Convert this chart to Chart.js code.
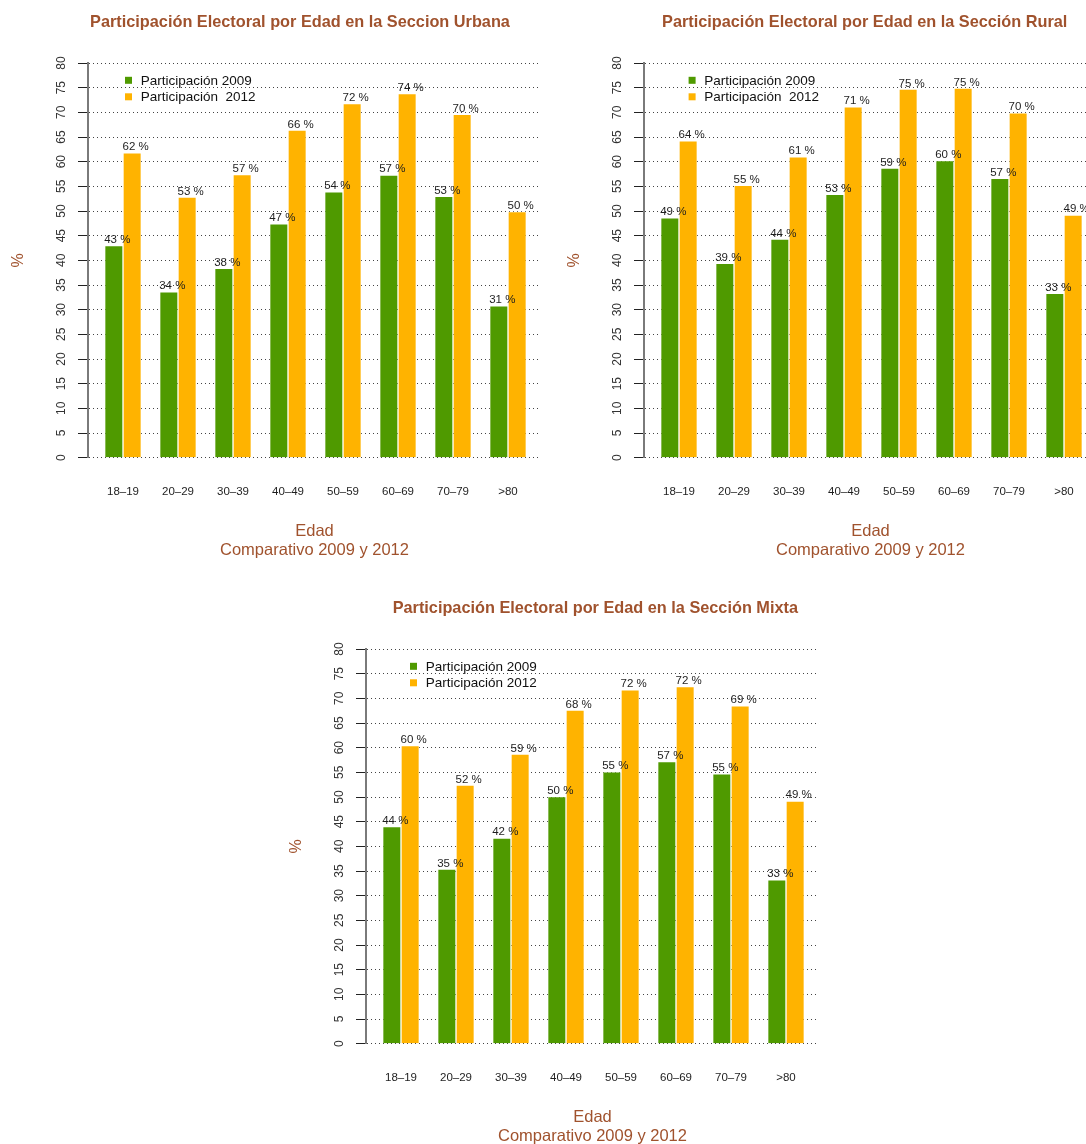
<!DOCTYPE html>
<html>
<head>
<meta charset="utf-8">
<script src="https://cdn.jsdelivr.net/npm/chart.js@4/dist/chart.umd.min.js"></script>
<style>
html, body { margin: 0; padding: 0; background: #fff; }
body { width: 1086px; height: 1144px; overflow: hidden; position: relative; }
.box { position: absolute; width: 560px; height: 572px; }
.box canvas { display: block; }
</style>
</head>
<body>
<div class="box" style="left:0px;top:0px"><canvas id="chart-urbana" width="560" height="572"></canvas></div>
<div class="box" style="left:556px;top:0px"><canvas id="chart-rural" width="560" height="572"></canvas></div>
<div class="box" style="left:278px;top:586px"><canvas id="chart-mixta" width="560" height="572"></canvas></div>
<script>
/* ===== DATA ===== */
const categories = ['18–19', '20–29', '30–39', '40–49', '50–59', '60–69', '70–79', '>80'];
const yTicks = [0, 5, 10, 15, 20, 25, 30, 35, 40, 45, 50, 55, 60, 65, 70, 75, 80];

const urbana2009 = [43.0, 33.6, 38.4, 47.4, 53.9, 57.3, 53.0, 30.8];
const urbana2012 = [61.8, 52.8, 57.4, 66.4, 71.8, 73.8, 69.6, 49.9];
const rural2009 = [48.6, 39.4, 44.3, 53.4, 58.7, 60.2, 56.6, 33.3];
const rural2012 = [64.2, 55.2, 61.0, 71.1, 74.7, 74.9, 69.9, 49.2];
const mixta2009 = [44.0, 35.4, 41.7, 50.1, 55.1, 57.2, 54.7, 33.2];
const mixta2012 = [60.4, 52.4, 58.7, 67.6, 71.7, 72.4, 68.5, 49.2];

const legendUR = ['Participación 2009', 'Participación  2012'];
const legendMx = ['Participación 2009', 'Participación 2012'];

const xTitle = 'Edad';
const xSubTitle = 'Comparativo 2009 y 2012';
const yTitle = '%';

/* ===== STYLE ===== */
const C = {
    green: '#4f9a00', orange: '#ffb300',
    sienna: '#a0522d', text: '#1e1e1e', axis: '#7a7a7a', grid: '#444'
};
const FONT = "'Liberation Sans', Arial, Helvetica, sans-serif";
const W = 560, H = 572;
const AREA = { left: 88, right: 541, top: 63, bottom: 457.7 };
const PITCH = 55, FIRST = 35, BAR = 18.33;

/* ===== PLUGINS ===== */
const decorations = {
    id: 'decorations',
    afterDatasetsDraw(chart, args, o) {
        const ctx = chart.ctx, xs = chart.scales.x, ys = chart.scales.y;
        ctx.save();
        // value labels above bars
        ctx.font = '11.5px ' + FONT;
        ctx.fillStyle = C.text;
        ctx.textAlign = 'center';
        ctx.textBaseline = 'alphabetic';
        chart.data.datasets.forEach((ds, di) => {
            chart.getDatasetMeta(di).data.forEach((el, i) => {
                ctx.fillText(Math.round(ds.data[i]) + ' %', el.x + 3.5, el.y - 2.5);
            });
        });
        // x category labels
        categories.forEach((c, i) => ctx.fillText(c, xs.getPixelForValue(i + 1), 495));
        // y tick labels (rotated like R)
        ctx.font = '12px ' + FONT;
        ctx.fillStyle = '#333';
        yTicks.forEach(v => {
            ctx.save();
            ctx.translate(65, ys.getPixelForValue(v));
            ctx.rotate(-Math.PI / 2);
            ctx.fillText(String(v), 0, 0);
            ctx.restore();
        });
        // titles
        const cx = (chart.chartArea.left + chart.chartArea.right) / 2;
        ctx.fillStyle = C.sienna;
        ctx.font = 'bold 16.3px ' + FONT;
        ctx.fillText(o.title, o.titleX, 27);
        ctx.font = '16.5px ' + FONT;
        ctx.fillText(xTitle, cx, 536);
        ctx.fillText(xSubTitle, cx, 555);
        ctx.save();
        ctx.font = '16px ' + FONT;
        ctx.translate(23, (chart.chartArea.top + chart.chartArea.bottom) / 2);
        ctx.rotate(-Math.PI / 2);
        ctx.fillText(yTitle, 0, 0);
        ctx.restore();
        // legend
        ctx.font = '13.5px ' + FONT;
        ctx.textAlign = 'left';
        chart.data.datasets.forEach((ds, di) => {
            const y = 80.3 + di * 16.5;
            ctx.fillStyle = ds.backgroundColor;
            ctx.fillRect(o.legendX, y - 3.5, 7, 7);
            ctx.fillStyle = '#111';
            ctx.fillText(ds.label, o.legendX + 15.7, y + 4.5);
        });
        ctx.restore();
    }
};

/* ===== CHARTS ===== */
function makeChart(id, d2009, d2012, labels, title, titleX, legendX) {
    const xmin = 1 - FIRST / PITCH;
    const xmax = xmin + (AREA.right - AREA.left) / PITCH;
    return new Chart(document.getElementById(id), {
        type: 'bar',
        data: {
            labels: categories.map((c, i) => i + 1),
            datasets: [
                { label: labels[0], data: d2009, backgroundColor: C.green, borderColor: 'rgba(255,255,255,.35)', borderWidth: 1, barThickness: BAR },
                { label: labels[1], data: d2012, backgroundColor: C.orange, borderColor: 'rgba(255,255,255,.35)', borderWidth: 1, barThickness: BAR }
            ]
        },
        options: {
            responsive: false, animation: false,
            layout: { padding: { left: AREA.left - 10, right: W - AREA.right, top: AREA.top, bottom: H - AREA.bottom } },
            plugins: { legend: { display: false }, title: { display: false }, tooltip: { enabled: false },
                decorations: { title, titleX, legendX } },
            scales: {
                x: { type: 'linear', min: xmin, max: xmax, offset: false, display: false },
                y: {
                    min: 0, max: 80,
                    ticks: { display: false, stepSize: 5 },
                    grid: { color: C.grid, lineWidth: 1, drawTicks: true, tickLength: 10,
                        tickColor: '#222', tickWidth: 1, tickBorderDash: [] },
                    border: { display: true, color: C.axis, width: 2, dash: [1, 3] }
                }
            }
        },
        plugins: [decorations]
    });
}

makeChart('chart-urbana', urbana2009, urbana2012, legendUR, 'Participación Electoral por Edad en la Seccion Urbana', 300, 125);
makeChart('chart-rural', rural2009, rural2012, legendUR, 'Participación Electoral por Edad en la Sección Rural', 308.7, 132.6);
makeChart('chart-mixta', mixta2009, mixta2012, legendMx, 'Participación Electoral por Edad en la Sección Mixta', 317.3, 132);
</script>
</body>
</html>
